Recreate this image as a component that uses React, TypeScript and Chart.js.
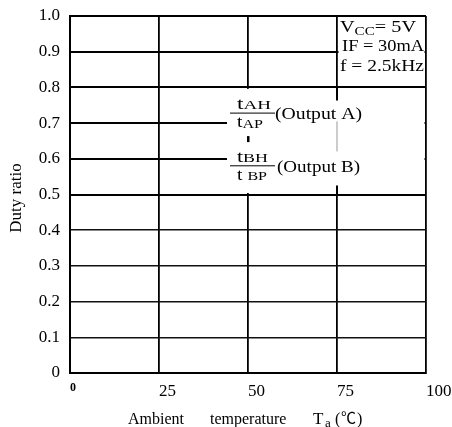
import React, { useEffect, useRef } from "react";
import { Chart, registerables } from "chart.js";

Chart.register(...registerables);

const xTickValues = [0, 25, 50, 75, 100];
const xTickLabels = ["0", "25", "50", "75", "100"];
const yTickValues = [0, 0.1, 0.2, 0.3, 0.4, 0.5, 0.6, 0.7, 0.8, 0.9, 1.0];
const yTickLabels = ["0", "0.1", "0.2", "0.3", "0.4", "0.5", "0.6", "0.7", "0.8", "0.9", "1.0"];
const conditionLines = [
  [["V", 16, 0], ["CC", 12, 3], ["= 5V", 16, 0]],
  [["IF = 30mA", 16, 0]],
  [["f = 2.5kHz", 16, 0]],
];
const xTitleParts = ["Ambient", "temperature", "T", "a", "(", "℃", ")"];
const yTitle = "Duty ratio";
const outputA = "(Output A)";
const outputB = "(Output B)";

const FONT = '"Liberation Serif", "DejaVu Serif", serif';

function richWidth(ctx: CanvasRenderingContext2D, parts: any[]) {
  let w = 0;
  for (const [t, size] of parts) {
    ctx.font = `${size}px ${FONT}`;
    w += ctx.measureText(t).width;
  }
  return w;
}
// draw rich text starting at x, stretched horizontally to target width (if given)
function drawRich(ctx: CanvasRenderingContext2D, parts: any[], x: number, y: number, target?: number) {
  const w = richWidth(ctx, parts);
  const sx = target ? target / w : 1;
  ctx.save();
  ctx.translate(x, y);
  ctx.scale(sx, 1);
  let cx = 0;
  for (const [t, size, dy] of parts) {
    ctx.font = `${size}px ${FONT}`;
    ctx.fillText(t, cx, dy);
    cx += ctx.measureText(t).width;
  }
  ctx.restore();
}

const annotations = {
  id: "annotations",
  afterDraw(chart: any) {
    const ctx: CanvasRenderingContext2D = chart.ctx;
    const xs = chart.scales.x;
    const ys = chart.scales.y;
    const X = (v: number) => xs.getPixelForValue(v);
    const Y = (v: number) => ys.getPixelForValue(v);
    ctx.save();
    ctx.fillStyle = "#fff";
    // condition box mask
    ctx.fillRect(X(75) + 1.5, Y(1.0) + 1.5, X(100) - X(75) - 3, Y(0.8) - Y(1.0) - 3);
    // output legend mask
    const mx = X(75) - 110;
    ctx.fillRect(mx, Y(0.8) + 1.5, X(100) - 1.5 - mx, Y(0.5) - Y(0.8) - 3);
    // partial vertical line at 75
    ctx.strokeStyle = "#000";
    ctx.lineWidth = 2;
    ctx.beginPath();
    ctx.moveTo(X(75), Y(0.8));
    ctx.lineTo(X(75), Y(0.8) + 13);
    ctx.moveTo(X(75), Y(0.5) - 9);
    ctx.lineTo(X(75), Y(0.5));
    ctx.stroke();
    ctx.strokeStyle = "#999";
    ctx.lineWidth = 1;
    ctx.beginPath();
    ctx.moveTo(X(75), Y(0.8) + 34);
    ctx.lineTo(X(75), Y(0.8) + 64);
    ctx.stroke();

    ctx.fillStyle = "#000";
    ctx.textBaseline = "alphabetic";
    ctx.textAlign = "left";
    // conditions
    const bx = X(75) + 3;
    drawRich(ctx, conditionLines[0], bx, Y(1.0) + 16, 76);
    drawRich(ctx, conditionLines[1], bx + 2, Y(1.0) + 35, 82);
    drawRich(ctx, conditionLines[2], bx, Y(1.0) + 55, 84);

    // fractions
    const fx0 = X(75) - 107;
    const fx1 = X(75) - 62;
    const frac = (top: any[], bot: any[], barY: number, label: string, tw: number, bw: number, lx: number, lw: number) => {
      ctx.strokeStyle = "#000";
      ctx.lineWidth = 1;
      ctx.beginPath();
      ctx.moveTo(fx0, barY);
      ctx.lineTo(fx1, barY);
      ctx.stroke();
      drawRich(ctx, top, fx0 + 7, barY - 4, tw);
      drawRich(ctx, bot, fx0 + 7, barY + 14, bw);
      drawRich(ctx, [[label, 16, 0]], lx, barY + 6, lw);
    };
    frac([["t", 16, 0], ["AH", 13, 0]], [["t", 16, 0], ["AP", 13, 1]], Y(0.7) - 10, outputA, 34, 26, fx1, 87);
    frac([["t", 16, 0], ["BH", 13, 0]], [["t ", 16, 0], ["BP", 13, 0]], Y(0.6) + 7, outputB, 31, 30, fx1 + 2, 83);
    ctx.fillRect(fx0 + 17, Y(0.7) + 13, 2.5, 6);

    // x title
    const ty = 424;
    ctx.font = `16px ${FONT}`;
    ctx.fillText(xTitleParts[0], 128, ty);
    ctx.fillText(xTitleParts[1], 210, ty);
    ctx.font = `17px ${FONT}`;
    ctx.fillText(xTitleParts[2], 313, ty);
    ctx.font = `13px ${FONT}`;
    ctx.fillText(xTitleParts[3], 325, ty + 3);
    ctx.font = `16px ${FONT}`;
    ctx.fillText(xTitleParts[4], 335, ty);
    ctx.font = `15px "Noto Sans CJK JP", ${FONT}`;
    ctx.fillText(xTitleParts[5], 341, ty - 1);
    ctx.font = `16px ${FONT}`;
    ctx.fillText(xTitleParts[6], 357, ty);

    // y title
    ctx.save();
    ctx.translate(17, 198);
    ctx.rotate(-Math.PI / 2);
    ctx.font = `17px ${FONT}`;
    ctx.textAlign = "center";
    ctx.textBaseline = "middle";
    ctx.fillText(yTitle, 0, 0);
    ctx.restore();
    ctx.restore();
  },
};

export default function App() {
  const ref = useRef<HTMLCanvasElement>(null);
  useEffect(() => {
    document.body.style.margin = "0";
    document.body.style.overflow = "hidden";
    const chart = new Chart(ref.current!, {
      type: "line",
      data: { datasets: [] },
      options: {
        animation: false,
        responsive: false,
        maintainAspectRatio: false,
        layout: { padding: { left: 0, top: 16, right: 26, bottom: 0 } },
        plugins: { legend: { display: false }, tooltip: { enabled: false } },
        scales: {
          x: {
            type: "linear",
            min: 0,
            max: 100,
            afterBuildTicks: (s: any) => {
              s.ticks = xTickValues.map((v) => ({ value: v }));
            },
            afterFit: (s: any) => {
              s.height = 54;
              s.paddingLeft = 0;
              s.paddingRight = 0;
            },
            grid: { color: "#000", lineWidth: 1.8, drawTicks: false },
            border: { color: "#000", width: 2 },
            ticks: {
              align: "start",
              padding: 8,
              color: "#000",
              font: (c: any) =>
                c.tick && c.tick.value === 0
                  ? { family: FONT, size: 12, weight: "bold" }
                  : { family: FONT, size: 17 },
              callback: (v: any) => xTickLabels[xTickValues.indexOf(v)],
            },
          },
          y: {
            type: "linear",
            min: 0,
            max: 1,
            afterBuildTicks: (s: any) => {
              s.ticks = yTickValues.map((v) => ({ value: v }));
            },
            afterFit: (s: any) => {
              s.width = 70;
              s.paddingTop = 0;
              s.paddingBottom = 0;
            },
            grid: {
              color: (c: any) => (c.tick && c.tick.value >= 0.45 ? "#000" : "#111"),
              lineWidth: (c: any) => (c.tick && c.tick.value >= 0.45 ? 2 : 1.5),
              drawTicks: false,
            },
            border: { color: "#000", width: 2 },
            ticks: {
              padding: 10,
              color: "#000",
              font: { family: FONT, size: 17 },
              callback: (v: any) => {
                const i = yTickValues.findIndex((t) => Math.abs(t - v) < 1e-6);
                return i >= 0 ? yTickLabels[i] : "";
              },
            },
          },
        },
      },
      plugins: [annotations],
    });
    return () => chart.destroy();
  }, []);
  return <canvas ref={ref} width={452} height={427} style={{ display: "block" }} />;
}
